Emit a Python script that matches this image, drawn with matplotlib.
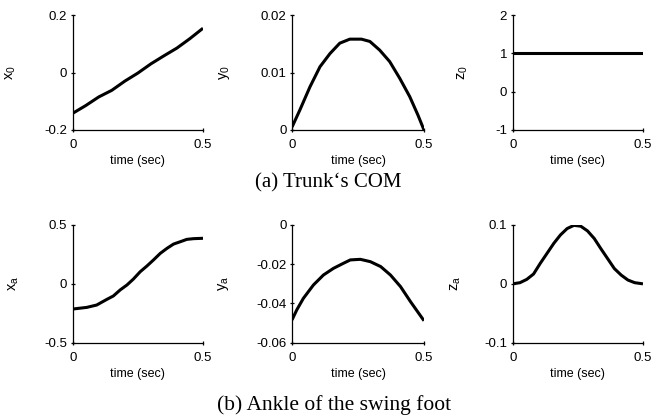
import matplotlib
matplotlib.use("Agg")
import matplotlib.pyplot as plt

plt.rcParams['font.family'] = ['Liberation Sans', 'DejaVu Sans']
plt.rcParams['mathtext.fontset'] = 'custom'
plt.rcParams['mathtext.rm'] = 'Liberation Sans'
plt.rcParams['mathtext.it'] = 'Liberation Sans'

# ---- data ----
t_x0 = [0.0, 0.05, 0.10, 0.15, 0.20, 0.25, 0.30, 0.35, 0.40, 0.45, 0.50]
x0 = [-0.142, -0.115, -0.085, -0.062, -0.030, -0.002, 0.030, 0.058, 0.085, 0.118, 0.154]

t_y0 = [0.0, 0.030, 0.068, 0.106, 0.144, 0.181, 0.219, 0.263, 0.295, 0.332, 0.370, 0.408, 0.446, 0.477, 0.5]
y0 = [0.0005, 0.0035, 0.0075, 0.0110, 0.0133, 0.0151, 0.0158, 0.0158, 0.0154, 0.0139, 0.0119, 0.0090, 0.0058, 0.0026, 0.0]

t_z0 = [0.0, 0.5]
z0 = [1.0, 1.0]

t_xa = [0.0, 0.054, 0.092, 0.131, 0.156, 0.182, 0.208, 0.233, 0.259, 0.285, 0.310, 0.336, 0.362, 0.387, 0.413, 0.438, 0.464, 0.5]
xa = [-0.214, -0.200, -0.180, -0.132, -0.103, -0.052, -0.010, 0.041, 0.103, 0.152, 0.203, 0.259, 0.302, 0.338, 0.358, 0.378, 0.384, 0.387]

t_ya = [0.0, 0.018, 0.043, 0.081, 0.119, 0.157, 0.195, 0.221, 0.259, 0.297, 0.336, 0.373, 0.411, 0.449, 0.5]
ya = [-0.0484, -0.0433, -0.0374, -0.0306, -0.0255, -0.0221, -0.0195, -0.0178, -0.0175, -0.0187, -0.0212, -0.0255, -0.0314, -0.0391, -0.0488]

t_za = [0.0, 0.028, 0.054, 0.080, 0.106, 0.132, 0.158, 0.183, 0.209, 0.235, 0.261, 0.287, 0.313, 0.338, 0.364, 0.390, 0.416, 0.442, 0.468, 0.5]
za = [0.0, 0.002, 0.0076, 0.0167, 0.035, 0.052, 0.069, 0.083, 0.094, 0.0994, 0.098, 0.090, 0.077, 0.060, 0.043, 0.026, 0.015, 0.0065, 0.002, 0.0]

x_ticks = [0, 0.5]
x_ticklabels = ['0', '0.5']
xlabel = 'time (sec)'

panels = [
    (t_x0, x0, r'$\mathregular{x_0}$', [-0.2, 0, 0.2], ['-0.2', '0', '0.2']),
    (t_y0, y0, r'$\mathregular{y_0}$', [0, 0.01, 0.02], ['0', '0.01', '0.02']),
    (t_z0, z0, r'$\mathregular{z_0}$', [-1, 0, 1, 2], ['-1', '0', '1', '2']),
    (t_xa, xa, r'$\mathregular{x_a}$', [-0.5, 0, 0.5], ['-0.5', '0', '0.5']),
    (t_ya, ya, r'$\mathregular{y_a}$', [-0.06, -0.04, -0.02, 0], ['-0.06', '-0.04', '-0.02', '0']),
    (t_za, za, r'$\mathregular{z_a}$', [-0.1, 0, 0.1], ['-0.1', '0', '0.1']),
]
captions = ['(a) Trunk\u2018s COM', '(b) Ankle of the swing foot']

W, H = 665, 420
fig = plt.figure(figsize=(W / 100, H / 100), dpi=100)

lefts = [72.7, 292, 512.7]
widths = [130.3, 132, 130.3]
tops = [15, 225]
bottoms = [130, 342.7]
ylabel_off = [[55, 60, 43], [52, 61, 50]]

for i, (tt, vv, lab, yt, ytl) in enumerate(panels):
    r, c = divmod(i, 3)
    ax = fig.add_axes([lefts[c] / W, 1 - bottoms[r] / H, widths[c] / W, (bottoms[r] - tops[r]) / H])
    ax.plot(tt, vv, color='black', lw=2.2, solid_capstyle='butt')
    ax.set_xlim(0, 0.5)
    ax.set_ylim(yt[0], yt[-1])
    ax.set_xticks(x_ticks)
    ax.set_xticklabels(x_ticklabels)
    ax.set_yticks(yt)
    ax.set_yticklabels(ytl)
    for s in ['top', 'right']:
        ax.spines[s].set_visible(False)
    for s in ['left', 'bottom']:
        ax.spines[s].set_linewidth(0.9)
    ax.tick_params(direction='inout', length=3, width=0.9, labelsize=9.5)
    ax.tick_params(axis='x', pad=5)
    ax.tick_params(axis='y', pad=2.5)
    ax.set_xlabel(xlabel, fontsize=9, labelpad=3)
    ax.set_ylabel(lab, fontsize=10.5)
    ax.yaxis.set_label_coords(-ylabel_off[r][c] / widths[c], 0.5)

fig.text(328 / W, 1 - 183 / H, captions[0], ha='center', va='center',
         fontsize=15, family=['Liberation Serif', 'DejaVu Serif'])
fig.text(334 / W, 1 - 405 / H, captions[1], ha='center', va='center',
         fontsize=15.5, family=['Liberation Serif', 'DejaVu Serif'])

fig.savefig('out.png', dpi=100)
